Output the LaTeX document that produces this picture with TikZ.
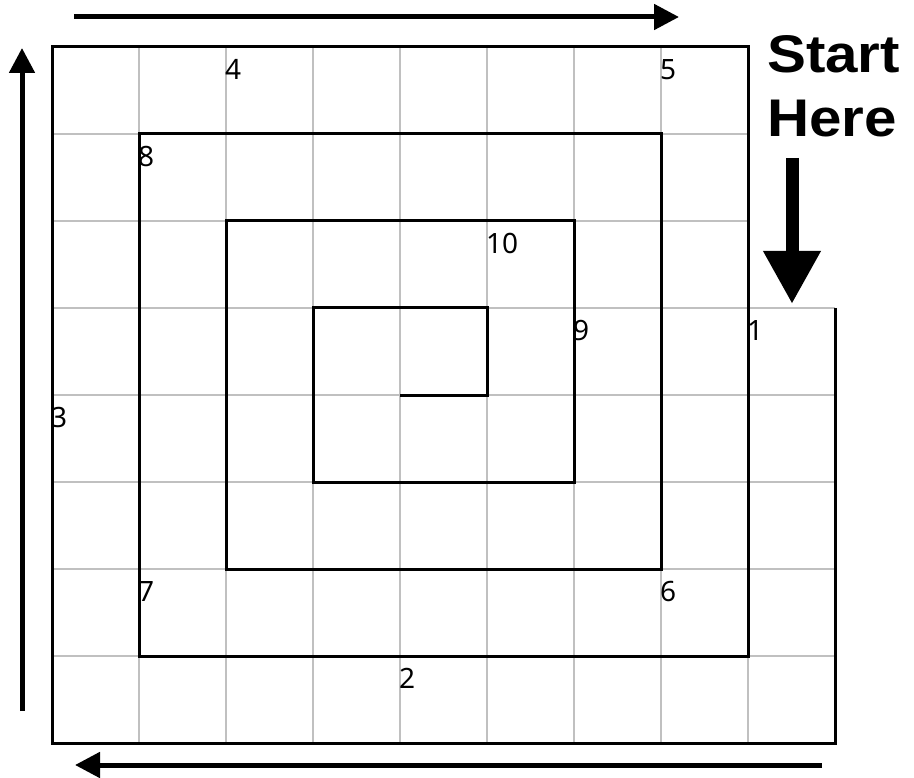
\documentclass[tikz,border=0pt]{standalone}
\usepackage{fontspec}
\setmainfont{Noto Sans}
\newfontfamily\startfont{Liberation Sans}
\usetikzlibrary{arrows.meta}
\tikzset{
  gridline/.style={draw={rgb,255:red,192;green,192;blue,192}, line width=2pt},
  spiral/.style={draw=black, line width=3pt, line join=miter},
  thinarrow/.style={draw=black, line width=5pt, -{Triangle[length=25pt,width=25pt]}},
  bigarrow/.style={draw=black, line width=13pt, -{Triangle[length=53pt,width=54pt]}},
  num/.style={anchor=base west, inner sep=0pt, font=\fontsize{28}{30}\selectfont},
  bigtext/.style={anchor=base west, inner sep=0pt, font=\startfont\bfseries\fontsize{53}{58}\selectfont}
}
\begin{document}
\begin{tikzpicture}[x=1pt,y=-1pt]
\useasboundingbox (0,0) rectangle (914,778);
% grid
\foreach \i in {1,...,7} {
  \draw[gridline] (52+87*\i,47) -- (52+87*\i,743);
  \draw[gridline] (52,47+87*\i) -- (748,47+87*\i);
}
\draw[gridline] (748,308) -- (748,743);
\foreach \j in {0,...,4} {
  \draw[gridline] (748,308+87*\j) -- (835,308+87*\j);
}
% spiral
\draw[spiral] (835,308) -- (835,743) -- (52,743) -- (52,47) -- (748,47) -- (748,656)
  -- (139,656) -- (139,134) -- (661,134) -- (661,569) -- (226,569) -- (226,221)
  -- (574,221) -- (574,482) -- (313,482) -- (313,308) -- (487,308) -- (487,395) -- (400,395);
% labels
\node[num] (n1) at (747,341) {1};
\node[num] (n2) at (399,688) {2};
\node[num] (n3) at (51,428) {3};
\node[num] (n4) at (225,80) {4};
\node[num] (n5) at (660,80) {5};
\node[num] (n6) at (660,601) {6};
\node[num] (n7) at (138,601) {7};
\node[num] (n8) at (138,167) {8};
\node[num] (n9) at (573,341) {9};
\node[num] (n10) at (486,254) {10};
% start here
\node[bigtext] (start) at (767,73) {\scalebox{1.1}[1]{Start}};
\node[bigtext] (here) at (767,137) {\scalebox{1.1}[1]{Here}};
% arrows
\coordinate (ta) at (74,17);
\coordinate (tb) at (679,17);
\coordinate (la) at (22,711);
\coordinate (lb) at (22,48);
\coordinate (ba) at (822,765);
\coordinate (bb) at (75,765);
\coordinate (da) at (792,158);
\coordinate (db) at (792,304);
\draw[thinarrow] (ta) -- (tb);
\draw[thinarrow] (la) -- (lb);
\draw[thinarrow] (ba) -- (bb);
\draw[bigarrow] (da) -- (db);
\end{tikzpicture}
\end{document}
